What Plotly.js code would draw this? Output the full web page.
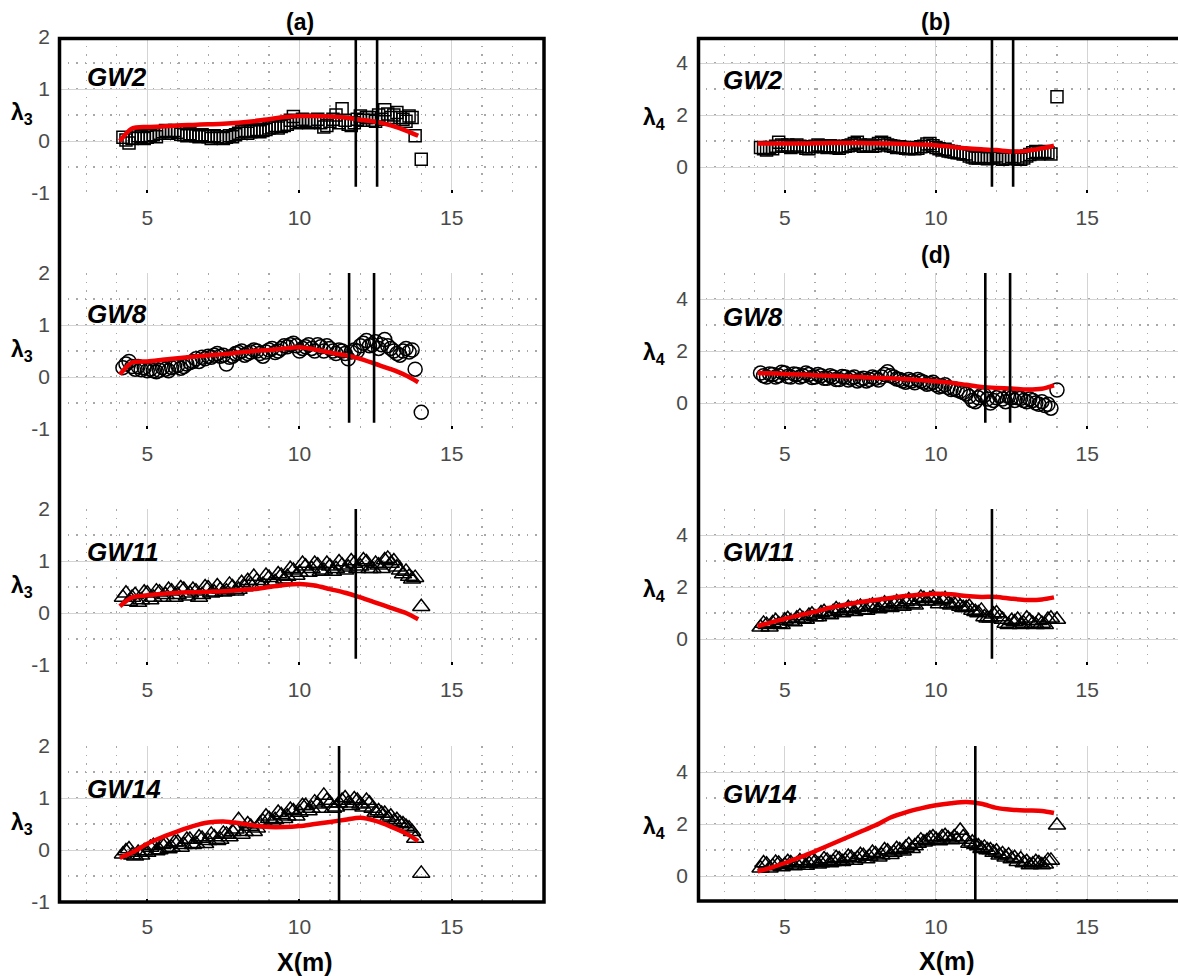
<!DOCTYPE html>
<html>
<head>
<meta charset="utf-8">
<script src="https://cdn.plot.ly/plotly-3.0.1.min.js"></script>
<style>html,body{margin:0;padding:0;background:#fff;}#chart{width:1178px;height:976px;}</style>
</head>
<body>
<div id="chart"></div>
<script>
// ---------------- DATA ----------------
const wells = ["GW2", "GW8", "GW11", "GW14"];
const xMarker = [4.2,4.3,4.4,4.5,4.6,4.7,4.8,4.9,5.0,5.1,5.2,5.3,5.4,5.5,5.6,5.7,5.8,5.9,6.0,6.1,6.2,6.3,6.4,6.5,6.6,6.7,6.8,6.9,7.0,7.1,7.2,7.3,7.4,7.5,7.6,7.7,7.8,7.9,8.0,8.1,8.2,8.3,8.4,8.5,8.6,8.7,8.8,8.9,9.0,9.1,9.2,9.3,9.4,9.5,9.6,9.7,9.8,9.9,10.0,10.1,10.2,10.3,10.4,10.5,10.6,10.7,10.8,10.9,11.0,11.1,11.2,11.3,11.4,11.5,11.6,11.7,11.8,11.9,12.0,12.1,12.2,12.3,12.4,12.5,12.6,12.7,12.8,12.9,13.0,13.1,13.2,13.3,13.4,13.5,13.6,13.7,13.8,14.0];
const xModel = [4.1,4.5,5.0,5.5,6.0,6.5,7.0,7.5,8.0,8.5,9.0,9.5,10.0,10.5,11.0,11.5,12.0,12.5,13.0,13.5,13.9];

// lambda3 (skewness) observations
const lam3_GW2  = [0.07,0.02,-0.04,0.05,0.06,0.1,0.08,0.05,0.07,0.1,0.12,0.08,0.15,0.18,0.2,0.15,0.18,0.2,0.17,0.13,0.12,0.1,0.14,0.12,0.1,0.08,0.12,0.1,0.08,0.05,0.1,0.08,0.06,0.05,0.07,0.1,0.08,0.12,0.15,0.18,0.2,0.15,0.18,0.2,0.22,0.18,0.2,0.22,0.25,0.27,0.3,0.25,0.28,0.3,0.32,0.4,0.47,0.35,0.38,0.42,0.4,0.35,0.37,0.38,0.42,0.35,0.27,0.3,0.38,0.42,0.5,0.35,0.62,0.4,0.32,0.3,0.35,0.42,0.48,0.4,0.45,0.45,0.4,0.38,0.5,0.42,0.6,0.52,0.45,0.5,0.55,0.45,0.42,0.38,0.48,0.45,0.1,-0.35];
const lam3_GW8  = [0.18,0.25,0.3,0.2,0.15,0.2,0.14,0.18,0.12,0.15,0.12,0.1,0.13,0.18,0.15,0.12,0.18,0.2,0.22,0.17,0.2,0.25,0.28,0.3,0.35,0.3,0.38,0.35,0.4,0.38,0.42,0.45,0.4,0.42,0.25,0.38,0.4,0.45,0.47,0.5,0.42,0.45,0.48,0.52,0.5,0.45,0.4,0.48,0.52,0.55,0.47,0.5,0.55,0.6,0.58,0.62,0.65,0.6,0.5,0.55,0.58,0.62,0.55,0.5,0.62,0.58,0.5,0.6,0.55,0.5,0.45,0.52,0.5,0.45,0.35,0.48,0.52,0.5,0.6,0.65,0.7,0.6,0.62,0.68,0.55,0.62,0.72,0.6,0.55,0.5,0.45,0.42,0.5,0.55,0.48,0.52,0.15,-0.68];
const lam3_GW11 = [0.3,0.38,0.22,0.3,0.35,0.2,0.25,0.4,0.38,0.25,0.3,0.42,0.4,0.3,0.35,0.45,0.42,0.3,0.35,0.48,0.45,0.32,0.38,0.45,0.42,0.3,0.35,0.5,0.48,0.38,0.4,0.52,0.45,0.4,0.42,0.55,0.5,0.42,0.45,0.58,0.5,0.62,0.55,0.7,0.62,0.55,0.55,0.72,0.68,0.6,0.6,0.75,0.72,0.65,0.7,0.85,0.82,0.72,0.78,0.95,0.9,0.78,0.85,0.95,0.92,0.8,0.82,0.95,0.9,0.8,0.85,0.98,0.92,0.82,0.88,1.0,0.95,0.85,0.9,1.02,0.98,0.85,0.85,0.95,0.92,0.85,1.02,1.05,0.95,1.0,0.88,0.82,0.75,0.8,0.7,0.65,0.68,0.12];
const lam3_GW14 = [-0.08,-0.02,0.02,-0.1,-0.12,-0.05,-0.1,-0.02,-0.05,0.05,0.08,-0.02,0.0,0.1,0.12,0.02,0.05,0.15,0.15,0.05,0.1,0.2,0.2,0.1,0.12,0.25,0.22,0.12,0.18,0.3,0.25,0.18,0.2,0.32,0.3,0.25,0.35,0.4,0.58,0.3,0.35,0.5,0.45,0.35,0.42,0.5,0.55,0.65,0.6,0.55,0.58,0.72,0.68,0.6,0.65,0.78,0.75,0.65,0.72,0.85,0.85,0.75,0.8,0.92,0.88,0.8,1.05,0.95,0.9,0.8,0.82,0.9,0.95,1.0,0.9,0.85,0.98,0.95,0.88,0.82,0.95,0.9,0.8,0.72,0.75,0.7,0.7,0.62,0.65,0.55,0.58,0.52,0.5,0.45,0.42,0.35,0.22,-0.45];
// lambda3 model (red curves)
const lam3_GW2_model  = [0.0,0.24,0.27,0.28,0.3,0.31,0.32,0.33,0.35,0.38,0.42,0.46,0.48,0.48,0.47,0.45,0.41,0.37,0.3,0.2,0.1];
const lam3_GW8_model  = [0.05,0.28,0.3,0.33,0.36,0.39,0.42,0.44,0.47,0.5,0.52,0.55,0.57,0.53,0.47,0.42,0.35,0.25,0.15,0.03,-0.1];
const lam3_GW11_model = [0.13,0.3,0.34,0.37,0.39,0.4,0.41,0.42,0.44,0.46,0.5,0.54,0.56,0.53,0.46,0.39,0.3,0.2,0.1,0.0,-0.12];
const lam3_GW14_model = [-0.15,-0.05,0.12,0.25,0.36,0.46,0.53,0.55,0.52,0.47,0.44,0.44,0.46,0.5,0.54,0.58,0.62,0.56,0.45,0.32,0.17];

// lambda4 (kurtosis) observations
const lam4_GW2  = [0.75,0.7,0.65,0.75,0.7,0.8,0.95,0.85,0.8,0.85,0.75,0.8,0.85,0.8,0.78,0.72,0.7,0.78,0.8,0.85,0.82,0.78,0.75,0.82,0.8,0.75,0.72,0.78,0.8,0.82,0.85,0.9,0.95,0.85,0.8,0.82,0.85,0.8,0.82,0.9,0.95,0.9,0.85,0.82,0.8,0.75,0.78,0.75,0.72,0.7,0.75,0.7,0.72,0.78,0.8,0.88,0.9,0.82,0.75,0.7,0.65,0.68,0.62,0.6,0.58,0.55,0.55,0.5,0.5,0.42,0.38,0.35,0.35,0.4,0.38,0.32,0.35,0.38,0.42,0.35,0.3,0.32,0.35,0.4,0.38,0.32,0.3,0.35,0.42,0.48,0.55,0.6,0.5,0.55,0.6,0.55,0.5,2.7];
const lam4_GW8  = [1.15,1.05,1.0,1.12,1.1,1.0,1.05,1.18,1.15,1.02,1.0,1.12,1.1,1.0,1.05,1.15,1.1,0.98,1.0,1.1,1.05,0.95,0.95,1.05,1.0,0.9,0.9,1.02,1.0,0.88,0.95,1.0,0.85,0.9,0.95,0.85,0.9,1.0,0.95,0.88,1.0,1.1,1.2,1.05,1.0,0.92,0.9,0.85,0.8,0.9,0.85,0.78,0.9,0.85,0.8,0.72,0.75,0.8,0.7,0.62,0.65,0.7,0.6,0.52,0.55,0.5,0.45,0.4,0.35,0.25,0.1,0.05,0.2,0.3,0.3,0.15,0.0,0.1,0.2,0.28,0.15,0.05,0.25,0.2,0.1,0.2,0.18,0.1,0.05,0.15,0.1,0.0,-0.05,0.05,-0.1,-0.05,-0.2,0.5];
const lam4_GW11 = [0.45,0.6,0.55,0.45,0.62,0.7,0.58,0.55,0.72,0.78,0.68,0.65,0.8,0.88,0.78,0.75,0.9,0.95,0.85,0.85,1.0,1.05,0.95,0.92,1.05,1.15,1.1,1.0,1.08,1.2,1.15,1.05,1.2,1.25,1.12,1.1,1.25,1.3,1.2,1.15,1.3,1.38,1.25,1.2,1.35,1.42,1.3,1.25,1.42,1.5,1.35,1.3,1.45,1.6,1.55,1.45,1.55,1.6,1.45,1.35,1.5,1.55,1.35,1.3,1.35,1.4,1.25,1.2,1.2,1.25,1.1,1.05,1.0,1.1,0.85,0.8,0.8,0.95,1.0,0.85,0.75,0.6,0.55,0.7,0.65,0.75,0.55,0.6,0.8,0.7,0.6,0.55,0.7,0.6,0.55,0.75,0.8,0.75];
const lam4_GW14 = [0.3,0.5,0.45,0.3,0.38,0.52,0.48,0.35,0.42,0.55,0.5,0.38,0.45,0.58,0.52,0.4,0.48,0.6,0.55,0.45,0.5,0.65,0.6,0.5,0.55,0.7,0.65,0.55,0.6,0.75,0.7,0.6,0.68,0.82,0.78,0.65,0.75,0.9,0.85,0.72,0.8,1.0,0.95,0.82,0.9,1.05,1.0,0.95,1.1,1.2,1.05,1.15,1.25,1.38,1.3,1.35,1.45,1.5,1.4,1.35,1.5,1.55,1.45,1.38,1.5,1.4,1.75,1.5,1.4,1.25,1.3,1.2,1.15,1.05,1.1,1.0,1.0,0.9,0.95,0.8,0.85,0.72,0.8,0.65,0.7,0.55,0.65,0.5,0.55,0.42,0.45,0.55,0.5,0.42,0.45,0.6,0.6,1.95];
// lambda4 model (red curves)
const lam4_GW2_model  = [0.9,0.9,0.9,0.9,0.91,0.92,0.92,0.92,0.91,0.9,0.88,0.87,0.84,0.78,0.72,0.68,0.65,0.6,0.62,0.72,0.82];
const lam4_GW8_model  = [1.15,1.14,1.12,1.1,1.07,1.05,1.02,1.0,0.97,0.95,0.92,0.88,0.84,0.78,0.7,0.62,0.58,0.56,0.52,0.55,0.68];
const lam4_GW11_model = [0.5,0.62,0.78,0.92,1.05,1.2,1.32,1.42,1.5,1.58,1.65,1.7,1.74,1.72,1.65,1.62,1.62,1.55,1.5,1.52,1.6];
const lam4_GW14_model = [0.18,0.3,0.5,0.72,0.95,1.2,1.45,1.7,1.95,2.25,2.45,2.6,2.72,2.8,2.85,2.78,2.62,2.55,2.52,2.5,2.42];

// boundary positions (vertical lines), per well
const boundaries = {GW2: [11.85, 12.55], GW8: [11.63, 12.45], GW11: [11.85], GW14: [11.3]};

// tick labels
const lam3Ticks = [-1, 0, 1, 2];
const lam3TickText = ["-1", "0", "1", "2"];
const lam4Ticks = [0, 2, 4];
const lam4TickText = ["0", "2", "4"];
const xTicks = [5, 10, 15];
const xTickText = ["5", "10", "15"];

const obs3 = [lam3_GW2, lam3_GW8, lam3_GW11, lam3_GW14];
const mod3 = [lam3_GW2_model, lam3_GW8_model, lam3_GW11_model, lam3_GW14_model];
const obs4 = [lam4_GW2, lam4_GW8, lam4_GW11, lam4_GW14];
const mod4 = [lam4_GW2_model, lam4_GW8_model, lam4_GW11_model, lam4_GW14_model];

// ---------------- LAYOUT HELPERS ----------------
const W = 1178, H = 976;
const px = x => x / W;
const py = y => 1 - y / H;
const rowTop = [37, 273, 509, 746];
const rowH = 156;
const colX = [[59, 543], [697, 1178]];
const symbolsByWell = ["square-open", "circle-open", "triangle-up-open", "triangle-up-open"];
const sizeByWell = [12, 14, 15, 15];
const FONT = "Arial, Liberation Sans, sans-serif";

const traces = [];
const layout = {
  width: W, height: H,
  margin: {l: 0, r: 0, t: 0, b: 0},
  paper_bgcolor: "#fff", plot_bgcolor: "#fff",
  showlegend: false,
  font: {family: FONT, color: "#000"},
  shapes: [], annotations: []
};

const tickFont = {family: FONT, size: 21, color: "#4a4a4a"};

for (let col = 0; col < 2; col++) {
  for (let row = 0; row < 4; row++) {
    const n = col * 4 + row + 1;
    const xa = n === 1 ? "x" : "x" + n;
    const ya = n === 1 ? "y" : "y" + n;
    const obs = col === 0 ? obs3[row] : obs4[row];
    const mod = col === 0 ? mod3[row] : mod4[row];
    traces.push({
      x: xMarker, y: obs, xaxis: xa, yaxis: ya, type: "scatter", mode: "markers",
      marker: {symbol: symbolsByWell[row], size: sizeByWell[row], color: "#000", line: {width: 1.5, color: "#000"}},
      hoverinfo: "x+y"
    });
    traces.push({
      x: xModel, y: mod, xaxis: xa, yaxis: ya, type: "scatter", mode: "lines",
      line: {color: "#f00000", width: 4.5, shape: "spline", smoothing: 0.8},
      hoverinfo: "x+y"
    });
    const xKey = n === 1 ? "xaxis" : "xaxis" + n;
    const yKey = n === 1 ? "yaxis" : "yaxis" + n;
    layout[xKey] = {
      domain: [px(colX[col][0]), px(colX[col][1])],
      anchor: ya, range: [2.1, 18],
      tickmode: "array", tickvals: xTicks, ticktext: xTickText,
      showgrid: true, gridcolor: "#d4d4d4", gridwidth: 1,
      minor: {dtick: 1, tick0: 0, showgrid: true, gridcolor: "#a8a8a8", gridwidth: 1.3, griddash: "1.5px,7px"},
      zeroline: false, showline: false,
      ticks: "inside", ticklen: 3, tickwidth: 2, tickcolor: "#000",
      tickfont: tickFont, ticklabelstandoff: 10, fixedrange: true
    };
    layout[yKey] = {
      domain: [py(rowTop[row] + rowH), py(rowTop[row])],
      anchor: xa,
      range: col === 0 ? [-1, 2] : [-1, 5],
      tickmode: "array",
      tickvals: col === 0 ? lam3Ticks : lam4Ticks,
      ticktext: col === 0 ? lam3TickText : lam4TickText,
      showgrid: true, gridcolor: "#d4d4d4", gridwidth: 1,
      minor: {dtick: col === 0 ? 0.5 : 1, tick0: 0, showgrid: true, gridcolor: "#a8a8a8", gridwidth: 1.3, griddash: "1.5px,7px"},
      zeroline: false, showline: false, ticks: "",
      tickfont: tickFont, ticklabelstandoff: 8, fixedrange: true
    };
    // boundary vertical lines
    const well = wells[row];
    boundaries[well].forEach(bx => {
      layout.shapes.push({
        type: "line", xref: xa, yref: ya + " domain",
        x0: bx, x1: bx, y0: row === 3 ? 0 : 0.04, y1: 1,
        line: {color: "#000", width: 2.6}
      });
    });
    // well label
    const gwY = col === 0 ? [77, 314, 552, 789][row] : [80, 317, 552, 794][row];
    const gwX = col === 0 ? 85 : 721;
    layout.annotations.push({
      text: "<b><i>" + well + "</i></b>", xref: "paper", yref: "paper",
      x: px(gwX), y: py(gwY), xanchor: "left", yanchor: "middle", showarrow: false,
      font: {family: FONT, size: 26, color: "#000"}
    });
    // lambda label
    if (col === 0) {
      layout.annotations.push({
        text: "<b>λ<sub>3</sub></b>", xref: "paper", yref: "paper",
        x: px(35), y: py(rowTop[row] + 77), xanchor: "right", yanchor: "middle", showarrow: false,
        font: {family: FONT, size: 23, color: "#000"}
      });
    } else {
      layout.annotations.push({
        text: "<b>λ<sub>4</sub></b>", xref: "paper", yref: "paper",
        x: px(667), y: py(rowTop[row] + 81), xanchor: "right", yanchor: "middle", showarrow: false,
        font: {family: FONT, size: 23, color: "#000"}
      });
    }
  }
}

// panel titles
[["(a)", 300, 22], ["(b)", 935, 22], ["(d)", 935, 255]].forEach(t => {
  layout.annotations.push({
    text: "<b>" + t[0] + "</b>", xref: "paper", yref: "paper",
    x: px(t[1]), y: py(t[2]), xanchor: "center", yanchor: "middle", showarrow: false,
    font: {family: FONT, size: 23, color: "#000"}
  });
});
// x-axis titles
[[305, 962], [947, 961]].forEach(t => {
  layout.annotations.push({
    text: "<b>X(m)</b>", xref: "paper", yref: "paper",
    x: px(t[0]), y: py(t[1]), xanchor: "center", yanchor: "middle", showarrow: false,
    font: {family: FONT, size: 25, color: "#000"}
  });
});

// thick frames around each column
layout.shapes.push({type: "rect", xref: "paper", yref: "paper",
  x0: px(59.5), x1: px(544), y0: py(902), y1: py(38.5), line: {color: "#000", width: 3.5}, layer: "above"});
layout.shapes.push({type: "path", xref: "paper", yref: "paper",
  path: "M " + px(1180) + "," + py(38.5) + " L " + px(698.5) + "," + py(38.5) + " L " + px(698.5) + "," + py(901) + " L " + px(1180) + "," + py(901),
  line: {color: "#000", width: 3.5}, layer: "above"});

Plotly.newPlot("chart", traces, layout, {staticPlot: true, displayModeBar: false});
</script>
</body>
</html>
